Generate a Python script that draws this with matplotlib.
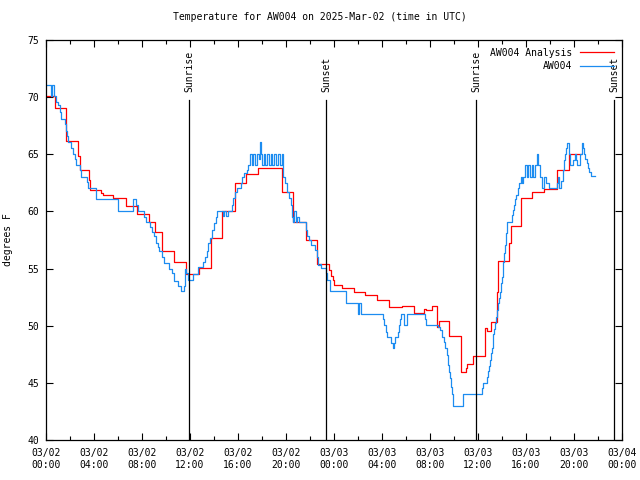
import datetime as dt
import matplotlib
matplotlib.use("Agg")
import matplotlib.pyplot as plt
import matplotlib.dates as mdates
import numpy as np

plt.rcParams['font.family'] = ['DejaVu Sans Mono']
plt.rcParams['font.size'] = 7

start = dt.datetime(2025, 3, 2, 0, 0)

# analysis series: hours since 03/02 00:00 UTC, degrees F
ana_hours = [0.0, 0.75, 1.69, 2.69, 2.81, 3.61, 3.69, 4.61, 4.72, 5.61, 6.64, 7.61,
             8.61, 9.08, 9.64, 10.67, 11.67, 12.72, 13.71, 14.69, 15.71, 16.67, 17.69,
             19.67, 20.61, 21.67, 22.61, 23.61, 23.75, 23.89, 24.0, 24.69, 25.69, 26.58,
             27.61, 28.61, 29.67, 30.69, 31.53, 31.67, 32.19, 32.61, 32.78, 33.56, 34.56,
             34.97, 35.11, 35.56, 36.61, 36.78, 37.11, 37.61, 37.69, 38.61, 38.72, 39.56,
             40.53, 41.53, 42.56, 43.56, 44.56]
ana_temp = [70.13, 69.02, 66.19, 64.85, 63.63, 62.75, 61.88, 61.65, 61.44, 61.15, 60.5, 59.78,
            59.05, 58.23, 56.54, 55.6, 54.5, 55.08, 57.65, 60.0, 62.46, 63.25, 63.77,
            61.67, 59.1, 57.5, 55.37, 54.9, 54.35, 54.0, 53.59, 53.27, 52.92, 52.69,
            52.22, 51.64, 51.7, 51.14, 51.46, 51.35, 51.7, 49.92, 50.41, 49.07, 45.92,
            46.27, 46.62, 47.32, 49.77, 49.5, 50.3, 52.92, 55.66, 57.21, 58.75, 61.2,
            61.67, 61.99, 63.63, 65.0, 65.0]

# station observations
obs_hours = [0.0, 0.39, 0.5, 0.64, 0.81, 1.03, 1.14, 1.28, 1.56, 1.67, 1.78, 1.86, 2.11,
             2.28, 2.39, 2.5, 2.81, 2.94, 3.44, 3.53, 4.14, 4.19, 6.0, 7.22, 7.53, 7.67,
             8.19, 8.31, 8.67, 8.86, 9.03, 9.14, 9.31, 9.44, 9.69, 9.83, 10.25, 10.53,
             10.67, 10.97, 11.25, 11.47, 11.56, 11.64, 11.86, 12.22, 12.69, 13.11, 13.25,
             13.39, 13.53, 13.67, 13.86, 14.0, 14.14, 14.28, 14.72, 14.86, 15.0, 15.19,
             15.5, 15.61, 15.75, 15.89, 16.22, 16.36, 16.53, 16.72, 16.86, 17.0, 17.14,
             17.28, 17.42, 17.56, 17.72, 17.83, 17.92, 18.0, 18.17, 18.28, 18.44, 18.56,
             18.72, 18.86, 19.0, 19.14, 19.31, 19.47, 19.64, 19.78, 19.92, 20.11, 20.28,
             20.39, 20.5, 20.58, 20.69, 20.81, 20.94, 21.06, 21.67, 21.78, 21.92, 22.08,
             22.42, 22.56, 22.69, 22.83, 22.94, 23.31, 23.39, 23.67, 24.97, 26.03, 26.11,
             26.25, 28.11, 28.19, 28.31, 28.44, 28.78, 28.89, 29.0, 29.11, 29.33, 29.42,
             29.5, 29.58, 29.86, 30.06, 31.58, 31.69, 32.69, 32.83, 32.97, 33.17, 33.28,
             33.39, 33.47, 33.58, 33.67, 33.75, 33.86, 33.94, 34.72, 36.36, 36.44, 36.72,
             36.81, 36.92, 37.0, 37.08, 37.14, 37.22, 37.28, 37.36, 37.44, 37.5, 37.56,
             37.64, 37.75, 37.83, 37.89, 37.97, 38.06, 38.11, 38.19, 38.25, 38.31, 38.39,
             38.81, 38.89, 38.97, 39.06, 39.14, 39.31, 39.44, 39.56, 39.64, 39.78, 39.92,
             40.06, 40.19, 40.33, 40.5, 40.61, 40.75, 40.92, 41.0, 41.17, 41.31, 41.5,
             41.64, 41.75, 41.92, 42.56, 42.67, 42.78, 42.94, 43.06, 43.14, 43.22, 43.31,
             43.39, 43.58, 43.67, 43.94, 44.08, 44.17, 44.28, 44.5, 44.64, 44.69, 44.78,
             44.86, 44.94, 45.06, 45.14, 45.25, 45.39, 45.75]
obs_temp = [71.04, 70.13, 71.04, 70.13, 69.6, 69.3, 68.67, 68.09, 67.65, 67.07, 66.6, 66.1, 65.58,
            65.03, 64.56, 64.04, 63.63, 63.04, 62.6, 62.02, 61.53, 61.09, 60.0, 61.09, 60.56, 60.0,
            59.5, 59.05, 58.6, 58.23, 57.85, 57.2, 56.9, 56.54, 56.04, 55.52, 55.0, 54.58,
            53.94, 53.48, 53.04, 53.48, 55.0, 54.58, 54.0, 54.5, 55.1, 55.6, 55.98,
            56.56, 57.2, 57.65, 58.38, 59.02, 59.48, 60.0, 59.6, 60.0, 59.6, 60.0,
            60.56, 61.15, 61.73, 62.02, 62.46, 63.04, 63.33, 63.63, 64.06, 65.03, 64.06,
            65.03, 64.06, 65.03, 64.56, 66.05, 65.03, 64.06, 65.03, 64.06, 65.03, 64.06,
            65.03, 64.06, 65.03, 64.06, 65.03, 64.06, 65.03, 63.04, 62.46, 61.73, 61.15,
            60.56, 59.54, 59.1, 60.0, 59.1, 59.54, 59.1, 58.38, 57.85, 57.5, 57.06,
            56.63, 56.04, 55.31, 55.37, 55.02, 54.58, 54.0, 53.04, 51.96, 51.0, 51.96,
            51.0, 50.56, 50.06, 49.48, 48.98, 48.46, 48.02, 48.46, 48.98, 49.48, 50.06,
            50.56, 51.0, 50.06, 51.0, 50.56, 50.06, 49.9, 49.63, 48.98, 48.6, 48.02,
            47.44, 46.56, 45.98, 45.4, 44.67, 44.03, 42.98, 44.03, 44.52, 44.96, 45.54,
            46.06, 46.48, 47.0, 47.59, 48.02, 48.6, 49.28, 49.69, 50.21, 50.79, 51.38,
            51.96, 52.4, 52.98, 53.71, 54.29, 55.02, 55.6, 56.33, 57.06, 58.08, 59.1,
            59.69, 60.13, 60.56, 61.06, 61.44, 62.02, 62.46, 63.04, 62.46, 63.04, 64.06,
            63.04, 64.06, 63.04, 64.06, 63.04, 64.06, 65.03, 64.06, 63.04, 62.02, 63.04,
            62.46, 62.46, 62.02, 62.46, 63.04, 62.02, 62.7, 63.63, 64.5, 65.03, 65.52,
            66.02, 65.03, 64.06, 64.5, 65.03, 64.5, 64.06, 65.03, 65.52, 66.02, 65.52,
            65.03, 64.6, 64.21, 63.83, 63.48, 63.1, 63.1]

sun_hours = [11.92, 23.33, 35.83, 47.33]
sun_labels = ['Sunrise', 'Sunset', 'Sunrise', 'Sunset']


def to_time(hours):
    return [start + dt.timedelta(hours=h) for h in hours]


fig = plt.figure(figsize=(6.4, 4.8), dpi=100)
ax = fig.add_axes([46 / 640, 40 / 480, 576 / 640, 400 / 480])

ax.step(to_time(ana_hours), ana_temp, where='post', color='#ff0000', lw=0.9,
        label='AW004 Analysis')
ax.step(to_time(obs_hours), obs_temp, where='post', color='#1c8cf0', lw=0.9,
        label='AW004')

for h, name in zip(sun_hours, sun_labels):
    t = start + dt.timedelta(hours=h)
    ax.plot([t, t], [40, 40 + 0.85 * 35], color='black', lw=0.9)
    ax.text(t, 40 + 0.87 * 35, name, rotation=90, ha='center', va='bottom')

ax.set_xlim(start, start + dt.timedelta(hours=48))
ax.set_ylim(40, 75)
ax.xaxis.set_major_locator(mdates.HourLocator(byhour=range(0, 24, 4)))
ax.xaxis.set_minor_locator(mdates.HourLocator(byhour=range(0, 24, 2)))
ax.xaxis.set_major_formatter(mdates.DateFormatter('%m/%d\n%H:%M'))
ax.set_yticks(np.arange(40, 76, 5))

ax.tick_params(which='both', direction='in', top=True, right=True, width=0.8)
ax.tick_params(which='major', length=5)
ax.tick_params(which='minor', length=3)
ax.tick_params(axis='x', pad=6)
ax.tick_params(axis='y', pad=5)
for s in ax.spines.values():
    s.set_linewidth(0.9)

ax.set_ylabel('degrees F', labelpad=10)
fig.suptitle('Temperature for AW004 on 2025-Mar-02 (time in UTC)', y=0.975, fontsize=7)

ax.legend(loc='upper right', frameon=False, markerfirst=False, handlelength=3.5,
          borderaxespad=0.4, labelspacing=0.35, handletextpad=0.8)

fig.savefig('out.png', dpi=100)
